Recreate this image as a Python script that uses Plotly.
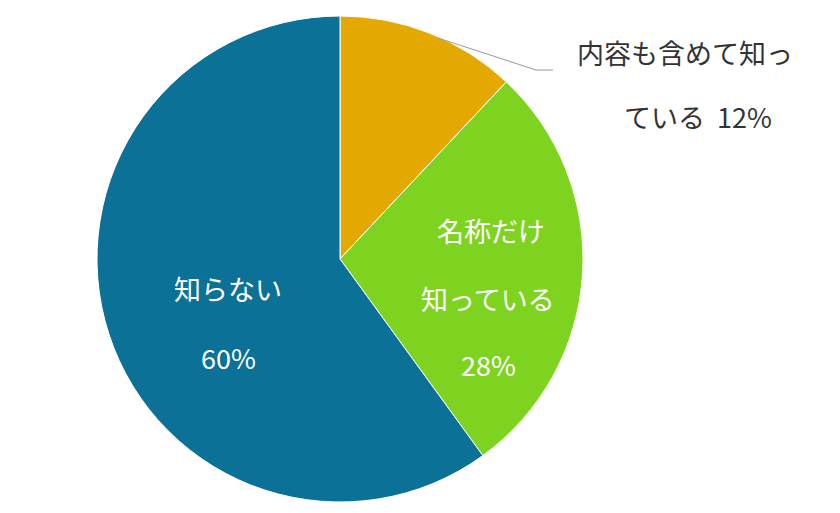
import plotly.graph_objects as go

labels = ["内容も含めて知っている", "名称だけ知っている", "知らない"]
values = [12, 28, 60]
colors = ["#E3A900", "#7ED321", "#0C7196"]

W, H = 840, 513
fig = go.Figure(go.Pie(
    labels=labels, values=values, sort=False, direction="clockwise", rotation=0,
    marker=dict(colors=colors, line=dict(color="white", width=1)),
    textinfo="none", hoverinfo="label+percent", showlegend=False,
    domain=dict(x=[89/W, 575/W], y=[19/H, 505/H]),
))

def px(x, y):
    return x / W, 1 - y / H

anns = [
    ("内容も含めて知っ", 677, 44, "#333333"),
    ("ている  12%", 690, 108, "#333333"),
    ("名称だけ", 483, 222, "white"),
    ("知っている", 480, 290, "white"),
    ("28%", 480, 356, "white"),
    ("知らない", 220, 280, "white"),
    ("60%", 220, 349, "white"),
]
for t, x, y, c in anns:
    ax, ay = px(x, y)
    fig.add_annotation(text=t, x=ax, y=ay, xref="paper", yref="paper", showarrow=False,
                       xanchor="center", yanchor="middle",
                       font=dict(size=27, color=c, family="Noto Sans CJK JP"))

x0, y0 = px(430, 30)
x1, y1 = px(528, 62)
x2, y2 = px(545, 62)
fig.add_shape(type="path", xref="paper", yref="paper",
              path=f"M {x0} {y0} L {x1} {y1} L {x2} {y2}", line=dict(color="#999999", width=1))

fig.update_layout(width=W, height=H, margin=dict(l=0, r=0, t=0, b=0),
                  paper_bgcolor="white", plot_bgcolor="white")
fig.write_html("out.html")
